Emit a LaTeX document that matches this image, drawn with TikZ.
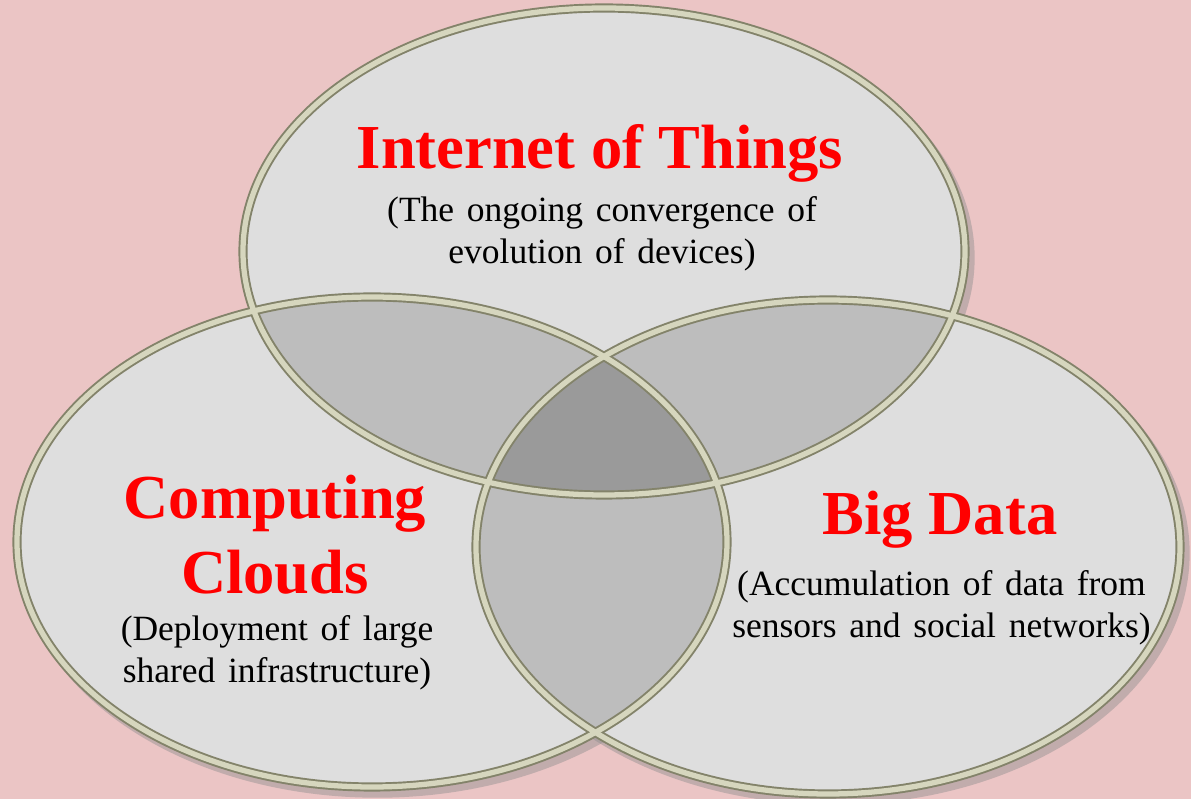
\documentclass[tikz,border=0pt]{standalone}
\usepackage{fontspec}
\setmainfont{Liberation Serif}
\definecolor{bgpink}{HTML}{EBC5C5}
\definecolor{lite}{HTML}{DEDEDE}
\definecolor{mid}{HTML}{BDBDBD}
\definecolor{dark}{HTML}{9A9A9A}
\definecolor{rimdark}{HTML}{83836A}
\definecolor{rimlite}{HTML}{D6D6BE}
\definecolor{shade}{HTML}{8E8E8E}
\definecolor{headred}{HTML}{FF0000}
\def\iotpath{(6.04,5.475) ellipse [x radius=3.61, y radius=2.435]}
\def\cloudpath{(3.72,2.57) ellipse [x radius=3.55, y radius=2.45]}
\def\datapath{(8.28,2.52) ellipse [x radius=3.52, y radius=2.47]}
\newcommand\subfont{\fontsize{10.1}{11.9}\selectfont\spaceskip 3.6pt plus 1pt\relax}

\begin{document}
\begin{tikzpicture}
\tikzstyle{every node}=[inner sep=0pt, align=center]
\tikzstyle{head}=[text=headred, font=\fontsize{17.8}{21.3}\selectfont\bfseries]
\tikzstyle{sub}=[font=\subfont]
\tikzstyle{rim}=[draw=rimdark, line width=2.6pt]
\tikzstyle{rimtop}=[draw=rimlite, line width=1.5pt]
\tikzstyle{drop}=[draw=shade, line width=2.5pt, opacity=.45, xshift=1.5pt, yshift=-1.8pt]
\useasboundingbox (0,0) rectangle (11.91,7.99);
\clip (0,0) rectangle (11.91,7.99);
\fill[bgpink] (0,0) rectangle (11.91,7.99);
\draw[drop] \iotpath;
\draw[drop] \cloudpath;
\draw[drop] \datapath;
\fill[lite] \iotpath;
\fill[lite] \cloudpath;
\fill[lite] \datapath;
\begin{scope}
\clip \iotpath;
\fill[mid] \cloudpath;
\fill[mid] \datapath;
\end{scope}
\begin{scope}
\clip \cloudpath;
\fill[mid] \datapath;
\clip \iotpath;
\fill[dark] \datapath;
\end{scope}
\draw[rim] \iotpath;
\draw[rim] \cloudpath;
\draw[rim] \datapath;
\draw[rimtop] \iotpath;
\draw[rimtop] \cloudpath;
\draw[rimtop] \datapath;
\node[head] (iot) at (6.00,6.46) {Internet of Things};
\node[sub] (iotsub) at (6.02,5.65) {(The ongoing convergence of\\evolution of devices)};
\node[head] (cloud) at (2.75,2.645) {Computing\\Clouds};
\node[sub] (cloudsub) at (2.77,1.465) {(Deployment of large\\shared infrastructure)};
\node[head] (data) at (9.40,2.79) {Big Data};
\node[sub] (datasub) at (9.415,1.91) {(Accumulation of data from\\sensors and social networks)};
\end{tikzpicture}
\end{document}
